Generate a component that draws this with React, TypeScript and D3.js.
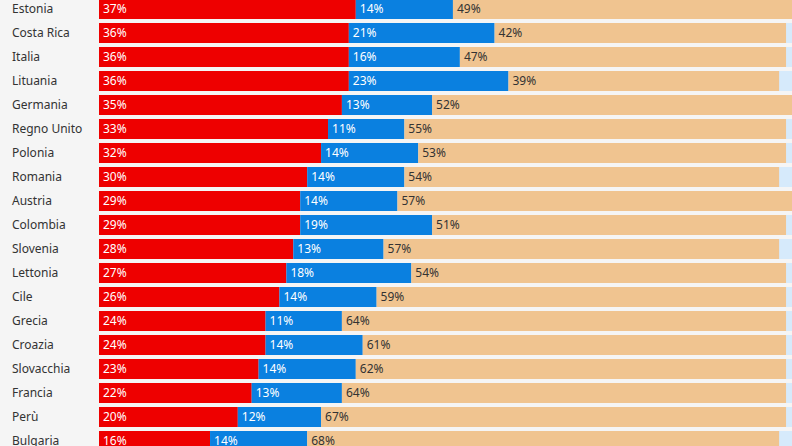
import * as d3 from "d3";

const countries = ["Estonia", "Costa Rica", "Italia", "Lituania", "Germania", "Regno Unito", "Polonia", "Romania", "Austria", "Colombia", "Slovenia", "Lettonia", "Cile", "Grecia", "Croazia", "Slovacchia", "Francia", "Perù", "Bulgaria"];
const redValues = [37, 36, 36, 36, 35, 33, 32, 30, 29, 29, 28, 27, 26, 24, 24, 23, 22, 20, 16];
const blueValues = [14, 21, 16, 23, 13, 11, 14, 14, 14, 19, 13, 18, 14, 11, 14, 14, 13, 12, 14];
const tanValues = [49, 42, 47, 39, 52, 55, 53, 54, 57, 51, 57, 54, 59, 64, 61, 62, 64, 67, 68];

const colors = ["#ee0000", "#0a80e0", "#f0c490"];
const textColors = ["#fff", "#fff", "#333"];

export default function App() {
  const width = 792;
  const height = 446;
  const x = d3.scaleLinear().domain([0, 100]).range([99, 793]);
  const y = d3.scaleBand().domain(countries).range([-3, -3 + 24 * countries.length]).paddingInner(1 / 6).paddingOuter(1 / 12);
  const font = "'Noto Sans', sans-serif";

  return (
    <svg width={width} height={height} style={{ position: "absolute", left: 0, top: 0, background: "#f5f5f5" }}>
      {countries.map((c, i) => {
        const vals = [redValues[i], blueValues[i], tanValues[i]];
        const starts = [0, vals[0], vals[0] + vals[1]];
        const y0 = y(c)!;
        const bh = y.bandwidth();
        const cy = y0 + bh / 2;
        return (
          <g key={c}>
            <text x={12} y={cy} dy="0.35em" fontFamily={font} fontSize={12} fill="#333">{c}</text>
            <rect x={x(0)} y={y0} width={x(100) - x(0)} height={bh} fill="#d6eafb" />
            {vals.map((v, k) => (
              <g key={k}>
                <rect x={x(starts[k])} y={y0} width={x(starts[k] + v) - x(starts[k])} height={bh} fill={colors[k]} />
                <text x={x(starts[k]) + 4} y={cy} dy="0.35em" fontFamily={font} fontSize={12} fill={textColors[k]}>{v}%</text>
              </g>
            ))}
          </g>
        );
      })}
    </svg>
  );
}
